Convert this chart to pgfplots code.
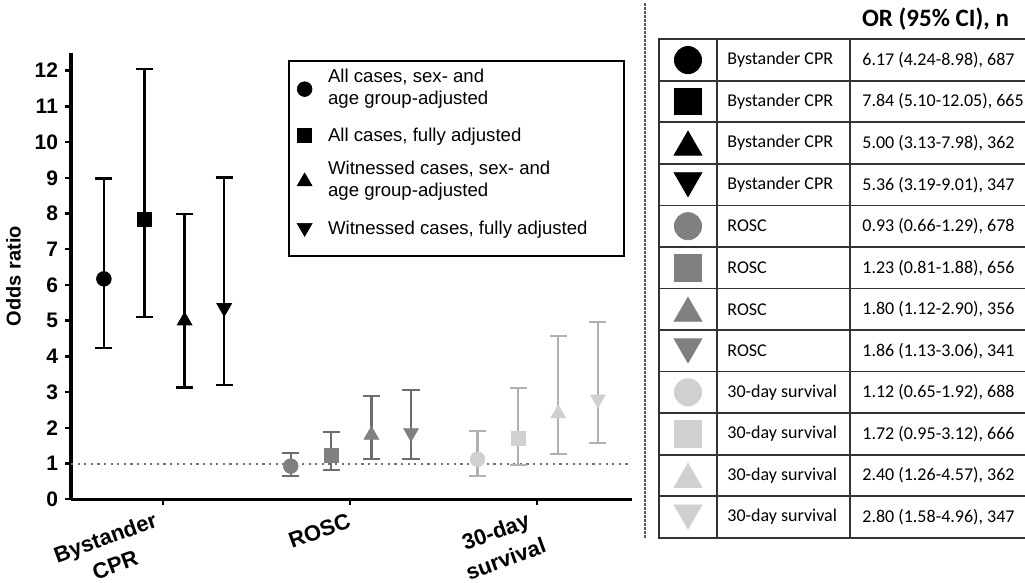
\documentclass[border=0pt]{standalone}
\usepackage{fontspec}
\setmainfont{Liberation Sans}
\newfontfamily\calfont{Carlito}
\usepackage{pgfplots}
\pgfplotsset{compat=1.18}

\definecolor{rosc}{RGB}{128,128,128}
\definecolor{surv}{RGB}{208,208,208}

% legend text: two lines, or one line padded to the same height
\newcommand\ltwo[2]{\begin{tabular}[c]{@{}p{142pt}@{}}#1\\#2\end{tabular}}
\newcommand\lone[1]{\begin{tabular}[c]{@{}p{142pt}@{}}\rule[-7.7pt]{0pt}{22pt}#1\end{tabular}}

\pgfplotsset{
  ci/.style={only marks, color=#1, line width=0.3pt,
    error bars/y dir=both, error bars/y explicit,
    error bars/error bar style={line width=1.1pt, color=#1!85!black},
    error bars/error mark options={rotate=90, line width=1.1pt, mark size=4.3pt, color=#1!85!black}},
  sc/.style={mark=*, mark size=3.7pt},
  ss/.style={mark=square*, mark size=3.5pt},
  st/.style={mark=triangle*, mark size=4.3pt},
  si/.style={mark=triangle*, mark size=4.3pt, mark options={rotate=180}},
}

\begin{document}
\begin{tikzpicture}
\path[use as bounding box] (0,0) rectangle (512.5pt,291.5pt);

% ---- left: odds ratios with 95% CI
\begin{axis}[
  at={(35.5pt,41.85pt)}, anchor=south west,
  scale only axis, width=280.35pt, height=223.25pt,
  xmin=0.506, xmax=3.507, ymin=0, ymax=12.5,
  axis lines*=left, axis line style={line width=1.6pt},
  tick style={line width=1.2pt, black}, tick align=outside, major tick length=3pt,
  xtick={1,3},
  xticklabels={{Bystander\\[1.5pt]CPR},
    {30-day\hspace*{-2.9pt}\\[1.5pt]survival\hspace*{-2.9pt}}},
  xticklabel style={xshift=2pt, rotate=20, anchor=east, align=center,
    font=\bfseries\fontsize{11}{13}\selectfont},
  xticklabel shift=12.5pt,
  extra x ticks={2}, extra x tick labels={ROSC},
  extra x tick style={xticklabel shift=6.5pt,
    xticklabel style={xshift=1pt}},
  ytick={0,1,...,12},
  yticklabel style={font=\bfseries\fontsize{10.5}{12}\selectfont},
  /pgf/number format/assume math mode=true,
  ylabel={Odds ratio}, ylabel style={font=\bfseries\fontsize{10}{12}\selectfont},
  clip=false,
  legend cell align=left,
  legend style={at={(0.387,0.984)}, anchor=north west, draw=black, line width=1.2pt,
    font=\fontsize{9.3}{11}\selectfont, inner xsep=4pt, inner ysep=3pt,
    row sep=1.1pt, column sep=6pt,
    nodes={inner xsep=2pt, inner ysep=0pt, text depth=}, cells={anchor=west}},
  legend image code/.code={\draw[#1, line width=0.3pt] plot coordinates {(0pt,0pt)};},
]
\addplot[forget plot, dash pattern=on 1.1pt off 2.2pt, line width=1pt, color=black!55]
  coordinates {(0.506,1) (3.507,1)};

% Bystander CPR
\addplot[sc, ci=black] coordinates {(0.682,6.17) += (0,2.81) -= (0,1.93)};
\addlegendentry{\ltwo{All cases, sex- and}{age group-adjusted}}
\addplot[ss, ci=black] coordinates {(0.899,7.84) += (0,4.21) -= (0,2.74)};
\addlegendentry{\lone{All cases, fully adjusted}}
\addplot[st, ci=black] coordinates {(1.114,5.00) += (0,2.98) -= (0,1.87)};
\addlegendentry{\ltwo{Witnessed cases, sex- and}{age group-adjusted}}
\addplot[si, ci=black] coordinates {(1.326,5.36) += (0,3.65) -= (0,2.17)};
\addlegendentry{\lone{Witnessed cases, fully adjusted}}

% ROSC
\addplot[forget plot, sc, ci=rosc] coordinates {(1.682,0.93) += (0,0.36) -= (0,0.27)};
\addplot[forget plot, ss, ci=rosc] coordinates {(1.899,1.23) += (0,0.65) -= (0,0.42)};
\addplot[forget plot, st, ci=rosc] coordinates {(2.114,1.80) += (0,1.10) -= (0,0.68)};
\addplot[forget plot, si, ci=rosc] coordinates {(2.326,1.86) += (0,1.20) -= (0,0.73)};

% 30-day survival
\addplot[forget plot, sc, ci=surv] coordinates {(2.682,1.12) += (0,0.80) -= (0,0.47)};
\addplot[forget plot, ss, ci=surv] coordinates {(2.899,1.72) += (0,1.40) -= (0,0.77)};
\addplot[forget plot, st, ci=surv] coordinates {(3.114,2.40) += (0,2.17) -= (0,1.14)};
\addplot[forget plot, si, ci=surv] coordinates {(3.326,2.80) += (0,2.16) -= (0,1.22)};
\end{axis}

% ---- right: table of estimates
\begin{axis}[
  at={(329.5pt,22.65pt)}, anchor=south west,
  scale only axis, width=184.5pt, height=249.2pt,
  xmin=659, xmax=1028, ymin=0.5, ymax=12.5, y dir=reverse,
  xtick={717,850}, ytick={1.5,2.5,...,11.5},
  xticklabels={}, yticklabels={}, major tick length=0pt,
  grid=major, grid style={line width=0.9pt, black!80},
  axis line style={line width=0.9pt, black!80},
  clip=false,
  every axis title/.style={at={(0.7493,1)}, anchor=base, yshift=6.3pt,
    font=\calfont\bfseries\fontsize{12.5}{14}\selectfont},
  title={OR (95\% CI), n},
  every node near coord/.append style={anchor=west, inner sep=0pt,
    font=\calfont\fontsize{9}{11}\selectfont, text=black},
]
\draw[dash pattern=on 1.2pt off 0.8pt, line width=0.9pt, black!65]
  (axis cs:645,-0.37) -- (axis cs:645,12.5);

\addplot[only marks, black, mark=*, mark size=6.8pt] coordinates {(688,1)};
\addplot[only marks, black, mark=square*, mark size=6.6pt] coordinates {(688,2)};
\addplot[only marks, black, mark=triangle*, mark size=8pt, mark options={yshift=-2pt}] coordinates {(688,3)};
\addplot[only marks, black, mark=triangle*, mark size=8pt, mark options={rotate=180, yshift=-2pt}] coordinates {(688,4)};
\addplot[only marks, rosc, mark=*, mark size=6.8pt] coordinates {(688,5)};
\addplot[only marks, rosc, mark=square*, mark size=6.6pt] coordinates {(688,6)};
\addplot[only marks, rosc, mark=triangle*, mark size=8pt, mark options={yshift=-2pt}] coordinates {(688,7)};
\addplot[only marks, rosc, mark=triangle*, mark size=8pt, mark options={rotate=180, yshift=-2pt}] coordinates {(688,8)};
\addplot[only marks, surv, mark=*, mark size=6.8pt] coordinates {(688,9)};
\addplot[only marks, surv, mark=square*, mark size=6.6pt] coordinates {(688,10)};
\addplot[only marks, surv, mark=triangle*, mark size=8pt, mark options={yshift=-2pt}] coordinates {(688,11)};
\addplot[only marks, surv, mark=triangle*, mark size=8pt, mark options={rotate=180, yshift=-2pt}] coordinates {(688,12)};

\addplot[draw=none, mark=none, point meta=explicit symbolic, nodes near coords={\pgfplotspointmeta}]
  coordinates {
  (727,1) [Bystander CPR] (727,2) [Bystander CPR] (727,3) [Bystander CPR] (727,4) [Bystander CPR]
  (727,5) [ROSC] (727,6) [ROSC] (727,7) [ROSC] (727,8) [ROSC]
  (727,9) [30-day survival] (727,10) [30-day survival] (727,11) [30-day survival] (727,12) [30-day survival]
  };
\addplot[draw=none, mark=none, point meta=explicit symbolic, nodes near coords={\pgfplotspointmeta}]
  coordinates {
  (862,1) [6.17 (4.24-8.98), 687] (862,2) [7.84 (5.10-12.05), 665]
  (862,3) [5.00 (3.13-7.98), 362] (862,4) [5.36 (3.19-9.01), 347]
  (862,5) [0.93 (0.66-1.29), 678] (862,6) [1.23 (0.81-1.88), 656]
  (862,7) [1.80 (1.12-2.90), 356] (862,8) [1.86 (1.13-3.06), 341]
  (862,9) [1.12 (0.65-1.92), 688] (862,10) [1.72 (0.95-3.12), 666]
  (862,11) [2.40 (1.26-4.57), 362] (862,12) [2.80 (1.58-4.96), 347]
  };
\end{axis}
\end{tikzpicture}
\end{document}
